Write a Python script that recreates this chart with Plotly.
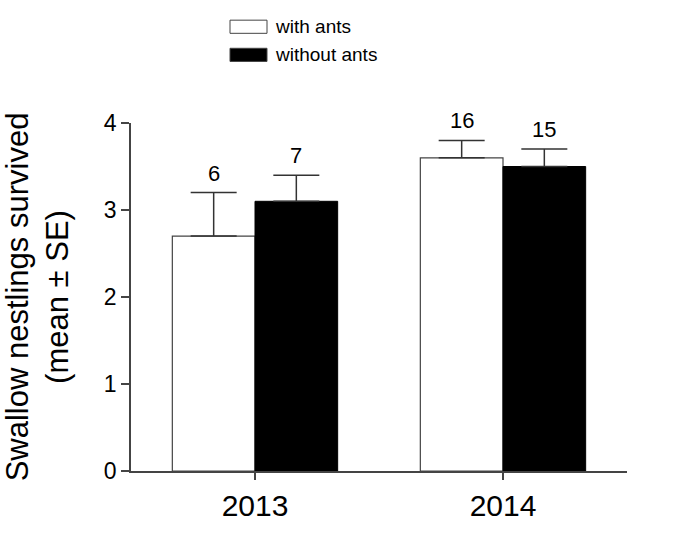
import plotly.graph_objects as go

years = ["2013", "2014"]
with_ants = [2.7, 3.6]
with_ants_se = [0.5, 0.2]
with_ants_n = ["6", "16"]
without_ants = [3.1, 3.5]
without_ants_se = [0.3, 0.2]
without_ants_n = ["7", "15"]

FONT = "Liberation Sans, Arial, sans-serif"
AX = "#444444"

fig = go.Figure()
fig.add_trace(go.Bar(
    name="with ants", x=years, y=with_ants,
    marker=dict(color="white", line=dict(color=AX, width=1.2)),
    error_y=dict(type="data", array=with_ants_se, arrayminus=[0, 0], symmetric=False,
                 color="#333333", thickness=1.5, width=23),
    showlegend=False,
))
fig.add_trace(go.Bar(
    name="without ants", x=years, y=without_ants,
    marker=dict(color="black", line=dict(color="black", width=1)),
    error_y=dict(type="data", array=without_ants_se, arrayminus=[0, 0], symmetric=False,
                 color="#333333", thickness=1.5, width=23),
    showlegend=False,
))

# n labels above the error bars
offsets = [-1 / 6, 1 / 6]
annotations = []
for vals, ses, ns, off in [(with_ants, with_ants_se, with_ants_n, offsets[0]),
                           (without_ants, without_ants_se, without_ants_n, offsets[1])]:
    for i, (v, s, n) in enumerate(zip(vals, ses, ns)):
        annotations.append(dict(
            x=i + off, y=v + s, xref="x", yref="y", text=n, showarrow=False,
            yanchor="bottom", yshift=5, font=dict(family=FONT, size=22, color="black"),
        ))

# manual legend
legend_items = [("with ants", "white", 1.2577, 1.2955, 1.2766),
                ("without ants", "black", 1.1769, 1.2147, 1.1958)]
shapes = []
for label, col, y0, y1, yc in legend_items:
    shapes.append(dict(type="rect", xref="paper", yref="paper", x0=0.1996, x1=0.2742,
                       y0=y0, y1=y1, fillcolor=col, line=dict(color=AX, width=1)))
    annotations.append(dict(x=0.2863, y=yc, xref="paper", yref="paper", text=label,
                            showarrow=False, xanchor="left", yanchor="middle",
                            font=dict(family=FONT, size=19, color="black")))

fig.update_layout(
    width=676, height=534,
    margin=dict(l=131, r=49, t=123, b=40),
    plot_bgcolor="white", paper_bgcolor="white",
    barmode="group", bargap=1 / 3, bargroupgap=0,
    font=dict(family=FONT, color="black"),
    annotations=annotations, shapes=shapes,
    showlegend=False,
)
fig.update_xaxes(
    type="category", range=[-0.5, 1.5],
    showline=True, linecolor=AX, linewidth=1.5,
    ticks="outside", ticklen=7, tickcolor=AX, tickwidth=1.5,
    tickfont=dict(family=FONT, size=30, color="black"),
    showgrid=False, zeroline=False,
)
fig.update_yaxes(
    range=[0, 4], tickvals=[0, 1, 2, 3, 4],
    showline=True, linecolor=AX, linewidth=1.5,
    ticks="outside", ticklen=8, tickcolor=AX, tickwidth=1.5,
    tickfont=dict(family=FONT, size=23, color="black"),
    showgrid=False, zeroline=False,
    title=dict(text="Swallow nestlings survived<br>(mean ± SE)",
               font=dict(family=FONT, size=31, color="black"), standoff=28),
)
fig.update_traces(cliponaxis=False)

fig.write_html("out.html", config={"displayModeBar": False},
               post_script="document.body.style.margin='0';")
